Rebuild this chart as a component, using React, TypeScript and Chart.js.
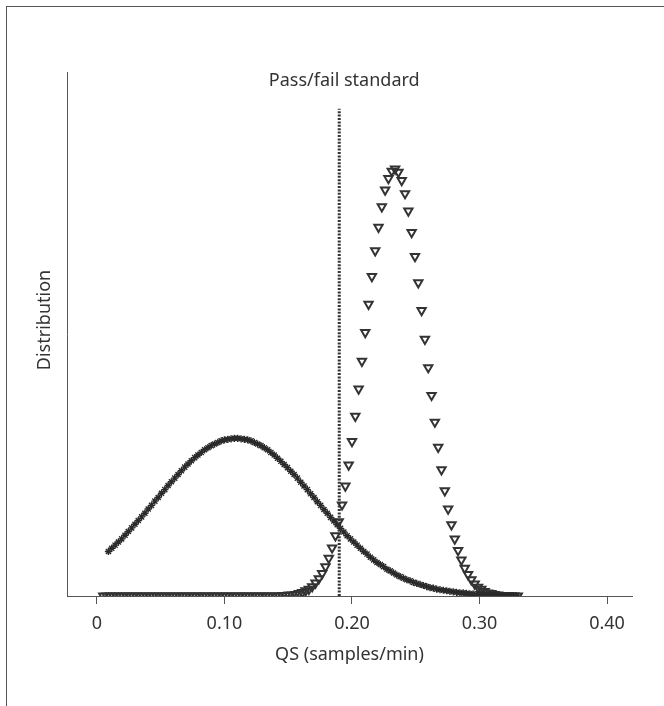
import React, { useEffect, useRef } from "react";
import { Chart, registerables } from "chart.js";

Chart.register(...registerables);

// ---- data ----
const X_STEP = 0.0026;
const TRI_X0 = 0.005;
const CROSS_X0 = 0.009;

const TRI_VALUES = [
  0, 0, 0, 0, 0, 0, 0, 0, 0, 0,
  0, 0, 0, 0, 0, 0, 0, 0, 0, 0,
  0, 0, 0, 0, 0, 0, 0, 0, 0, 0,
  0, 0, 0, 0, 0, 0, 0, 0, 0, 0,
  0, 0, 0, 0, 0, 0, 0, 0, 0, 0,
  0, 0, 0, 0,
  0.1, 0.1, 0.2, 0.2, 0.3, 0.5, 0.7, 1.0, 1.3, 1.8,
  2.5, 3.3, 4.3, 5.6, 7.2, 9.2, 11.5, 14.2, 17.4, 21.0,
  25.0, 29.5, 34.3, 39.5, 44.8, 50.3, 55.7, 61.0, 65.9, 70.4,
  74.3, 77.5, 79.7, 81.1, 81.5,
  80.9, 79.3, 76.8, 73.5, 69.4, 64.8, 59.8, 54.5, 49.0, 43.6,
  38.3, 33.2, 28.4, 24.1, 20.1, 16.6, 13.6, 10.9, 8.7, 6.9,
  5.3, 4.1, 3.1, 2.3, 1.7, 1.3, 0.9, 0.6, 0.5, 0.3,
  0.2, 0.1, 0.1, 0.1, 0, 0, 0,
];

const CROSS_VALUES = [
  8.5, 9.1, 9.7, 10.3, 10.9, 11.6, 12.3, 13.0, 13.7, 14.4,
  15.1, 15.8, 16.6, 17.3, 18.1, 18.8, 19.6, 20.3, 21.1, 21.8,
  22.5, 23.2, 23.9, 24.6, 25.2, 25.8, 26.4, 26.9, 27.4, 27.9,
  28.3, 28.7, 29.0, 29.3, 29.6, 29.8, 29.9, 30.0,
  30.1, 30.1, 30.0, 29.9, 29.8, 29.6, 29.3, 29.0, 28.7, 28.3,
  27.9, 27.4, 26.9, 26.3, 25.7, 25.1, 24.5, 23.8, 23.2, 22.5,
  21.7, 21.0, 20.3, 19.5, 18.8, 18.0, 17.3, 16.5, 15.8, 15.0,
  14.3, 13.6, 12.9, 12.2, 11.5, 10.9, 10.3, 9.7, 9.1, 8.5,
  8.0, 7.4, 6.9, 6.4, 6.0, 5.6, 5.1, 4.8, 4.4, 4.0,
  3.7, 3.4, 3.1, 2.9, 2.6, 2.4, 2.2, 2.0, 1.8, 1.6,
  1.5, 1.3, 1.2, 1.1, 1.0, 0.9, 0.8, 0.7, 0.6, 0.6,
  0.5, 0.4, 0.4, 0.3, 0.3, 0.3, 0.2, 0.2, 0.2, 0.2,
  0.1, 0.1, 0.1, 0.1, 0.1, 0.1,
];

const X_TICKS = [0, 0.1, 0.2, 0.3, 0.4];
const X_TICK_LABELS = ["0", "0.10", "0.20", "0.30", "0.40"];
const PASS_FAIL_X = 0.19;
const PASS_FAIL_TOP = 93;

const X_TITLE = "QS (samples/min)";
const Y_TITLE = "Distribution";
const PASS_LABEL = "Pass/fail standard";

const FONT = '"Noto Sans", "Open Sans", sans-serif';
const INK = "#333333";

const textPlugin = {
  id: "customText",
  afterDraw(chart: any) {
    const { ctx, chartArea, scales } = chart;
    ctx.save();
    ctx.fillStyle = INK;
    ctx.font = `18px ${FONT}`;
    ctx.textAlign = "center";
    ctx.textBaseline = "middle";
    ctx.fillText(X_TITLE, (chartArea.left + chartArea.right) / 2, chartArea.bottom + 59);
    const px = scales.x.getPixelForValue(PASS_FAIL_X);
    ctx.fillText(PASS_LABEL, px + 5, chartArea.top + 9);
    ctx.translate(chartArea.left - 22, chartArea.top + 248);
    ctx.rotate(-Math.PI / 2);
    ctx.fillText(Y_TITLE, 0, 0);
    ctx.restore();
  },
};

export default function App() {
  const ref = useRef<HTMLCanvasElement | null>(null);

  useEffect(() => {
    if (!ref.current) return;
    const triData = TRI_VALUES.map((v, i) => ({ x: TRI_X0 + i * X_STEP, y: v }));
    const crossData = CROSS_VALUES.map((v, i) => ({ x: CROSS_X0 + i * X_STEP, y: v }));
    const chart = new Chart(ref.current, {
      type: "scatter",
      data: {
        datasets: [
          {
            label: "Pass/fail",
            data: [
              { x: PASS_FAIL_X, y: 0 },
              { x: PASS_FAIL_X, y: PASS_FAIL_TOP },
            ],
            showLine: true,
            borderColor: INK,
            borderWidth: 3,
            borderDash: [2, 1.4],
            pointRadius: 0,
          },
          {
            label: "A",
            data: crossData,
            pointStyle: "star",
            pointRadius: 3.6,
            pointBorderWidth: 1.4,
            borderColor: "#2a2a2a",
            backgroundColor: "#2a2a2a",
          },
          {
            label: "B",
            data: triData,
            pointStyle: "triangle",
            rotation: 180,
            pointRadius: 4.8,
            pointBorderWidth: 2,
            borderColor: INK,
            backgroundColor: "rgba(255,255,255,0)",
          },
        ],
      },
      options: {
        animation: false,
        responsive: false,
        events: [],
        layout: { padding: { left: 0, top: 72, right: 32, bottom: 0 } },
        plugins: { legend: { display: false }, tooltip: { enabled: false } },
        scales: {
          x: {
            type: "linear",
            min: -0.0235,
            max: 0.4196,
            afterBuildTicks: (scale: any) => {
              scale.ticks = X_TICKS.map((v) => ({ value: v }));
            },
            afterFit: (scale: any) => {
              scale.height = 110;
            },
            ticks: {
              padding: 9,
              color: INK,
              font: { family: FONT, size: 18 },
              callback: (v: any) => {
                const i = X_TICKS.findIndex((t) => Math.abs(t - Number(v)) < 1e-9);
                return i >= 0 ? X_TICK_LABELS[i] : "";
              },
            },
            grid: {
              display: true,
              drawOnChartArea: false,
              drawTicks: true,
              tickLength: 8,
              color: "#555",
              lineWidth: 1,
            },
            border: { display: true, color: "#555", width: 1 },
          },
          y: {
            type: "linear",
            min: 0,
            max: 100,
            afterFit: (scale: any) => {
              scale.width = 67;
            },
            ticks: { display: false },
            grid: { display: false },
            border: { display: true, color: "#555", width: 1 },
          },
        },
      },
      plugins: [textPlugin],
    });
    return () => chart.destroy();
  }, []);

  return (
    <div style={{ position: "absolute", left: 0, top: 0, width: 664, height: 706, background: "#fff" }}>
      <canvas ref={ref} width={664} height={706} style={{ display: "block" }} />
      <div
        style={{
          position: "absolute",
          left: 6,
          top: 6,
          right: -10,
          bottom: -10,
          borderLeft: "1px solid #555",
          borderTop: "1px solid #555",
          pointerEvents: "none",
        }}
      />
    </div>
  );
}
